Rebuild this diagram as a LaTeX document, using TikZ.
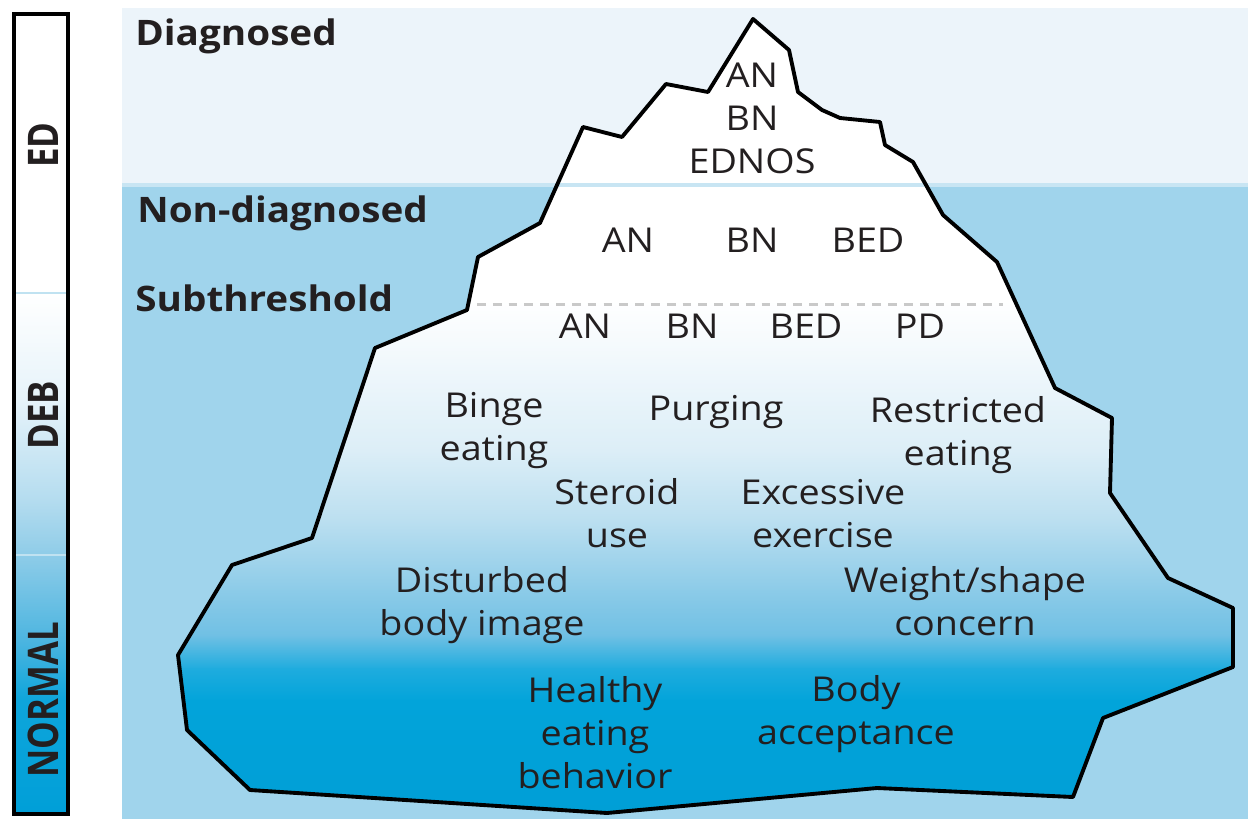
\documentclass[tikz,border=0pt]{standalone}
\usepackage{fontspec}
\setmainfont{Open Sans}[FakeStretch=1.1]

\definecolor{ink}{HTML}{231F20}
\definecolor{sky}{HTML}{ECF4FA}
\definecolor{sea}{HTML}{A0D4EC}
\definecolor{waterline}{HTML}{C8E5F3}
\definecolor{dashgray}{HTML}{C9C9C9}
\definecolor{ice1}{HTML}{F1F8FC}
\definecolor{ice2}{HTML}{DCEEF7}
\definecolor{ice3}{HTML}{BBDFF0}
\definecolor{ice4}{HTML}{8CCBE8}
\definecolor{ice5}{HTML}{70C0E4}
\definecolor{ice6}{HTML}{1FACDE}
\definecolor{ice7}{HTML}{02A4DA}
\definecolor{ice8}{HTML}{009ED6}
\definecolor{bar1}{HTML}{E6F3FA}
\definecolor{bar2}{HTML}{B4DCEF}
\definecolor{bar3}{HTML}{8ECCE8}
\definecolor{bar4}{HTML}{4CB5E0}
\definecolor{bar5}{HTML}{0EA5DB}
\definecolor{bar6}{HTML}{009FD8}

% outline of the iceberg, in pixels
\def\icebergoutline{(753,19) -- (789,50) -- (798,92) -- (822,110) -- (840,118)
  -- (880,122) -- (885,145) -- (913,162) -- (943,215) -- (997,262) -- (1055,388)
  -- (1112,418) -- (1110,493) -- (1168,578) -- (1233,608) -- (1233,667)
  -- (1103,718) -- (1073,797) -- (877,788) -- (607,813) -- (250,790)
  -- (187,730) -- (178,655) -- (232,565) -- (312,538) -- (375,348)
  -- (467,310) -- (478,257) -- (540,223) -- (583,127) -- (622,137)
  -- (666,84) -- (708,92) -- cycle}

\begin{document}
\begin{tikzpicture}[x=0.02cm, y=-0.02cm,
  level/.style={font=\fontsize{20}{24}\selectfont\bfseries, text=ink,
    anchor=base west, inner sep=0pt},
  item/.style={font=\fontsize{19.5}{24.5}\selectfont, text=ink,
    align=center, inner sep=0pt},
  barlabel/.style={font=\fontsize{24}{24}\selectfont\bfseries, text=ink,
    rotate=90, inner sep=0pt}]

\useasboundingbox (0,0) rectangle (1248,819);

% Sky and sea
\fill[sky] (122,8) rectangle (1248,185);
\fill[sea] (122,185) rectangle (1248,819);

% Iceberg
\begin{scope}
\clip \icebergoutline;
\fill[white] (100,0) rectangle (1250,819);
\foreach \ya/\yb/\ca/\cb in {300/360/white/ice1, 360/450/ice1/ice2,
    450/520/ice2/ice3, 520/590/ice3/ice4, 590/635/ice4/ice5,
    635/668/ice5/ice6, 668/700/ice6/ice7, 700/819/ice7/ice8}
  \shade[top color=\ca, bottom color=\cb] (100,\ya) rectangle (1250,\yb+1);
\end{scope}
\draw[waterline, line width=2.2pt] (122,185) -- (1248,185);
\draw[dashgray, line width=1.7pt, dash pattern=on 5pt off 4pt]
  (477,304) -- (1003,304);
\draw[black, line width=2.2pt, line join=round] \icebergoutline;

% Scale bar
\begin{scope}
\clip (14,14) rectangle (68,814);
\fill[white] (14,14) rectangle (68,814);
\foreach \ya/\yb/\ca/\cb in {293/400/white/bar1, 400/500/bar1/bar2,
    500/555/bar2/bar3, 555/640/bar3/bar4, 640/700/bar4/bar5,
    700/814/bar5/bar6}
  \shade[top color=\ca, bottom color=\cb] (14,\ya) rectangle (68,\yb+1);
\draw[waterline!80!sea, line width=1.2pt] (14,293) -- (68,293);
\draw[waterline!80!sea, line width=1.2pt] (14,555) -- (68,555);
\end{scope}
\draw[black, line width=2pt] (14,14) rectangle (68,814);

\node[barlabel] (ed) at (43,145) {\scalebox{0.75}[1]{ED}};
\node[barlabel] (deb) at (43,415) {\scalebox{0.75}[1]{DEB}};
\node[barlabel] (normal) at (43,700) {\scalebox{0.75}[1]{NORMAL}};

% Levels
\node[level] (diagnosed) at (135,45) {Diagnosed};
\node[level] (nondiag) at (137,222) {Non-diagnosed};
\node[level] (subthr) at (135,311) {Subthreshold};

% Diagnosed
\node[item] (dx) at (752,118) {AN\\BN\\EDNOS};

% Non-diagnosed
\node[item] (nan) at (628,240) {AN};
\node[item] (nbn) at (752,240) {BN};
\node[item] (nbed) at (868,240) {BED};

% Subthreshold
\node[item] (san) at (585,326) {AN};
\node[item] (sbn) at (692,326) {BN};
\node[item] (sbed) at (806,326) {BED};
\node[item] (spd) at (920,326) {PD};

% Behaviours
\node[item] (binge) at (494,431) {Binge\\eating};
\node[item] (purging) at (716,412) {Purging};
\node[item] (restrict) at (958,435) {Restricted\\eating};
\node[item] (steroid) at (617,513) {Steroid\\use};
\node[item] (exercise) at (823,514) {Excessive\\exercise};
\node[item] (image) at (482,605) {Disturbed\\body image};
\node[item] (concern) at (965,601) {Weight/shape\\concern};
\node[item] (healthy) at (595,733) {Healthy\\eating\\behavior};
\node[item] (accept) at (856,714) {Body\\acceptance};

\end{tikzpicture}
\end{document}
